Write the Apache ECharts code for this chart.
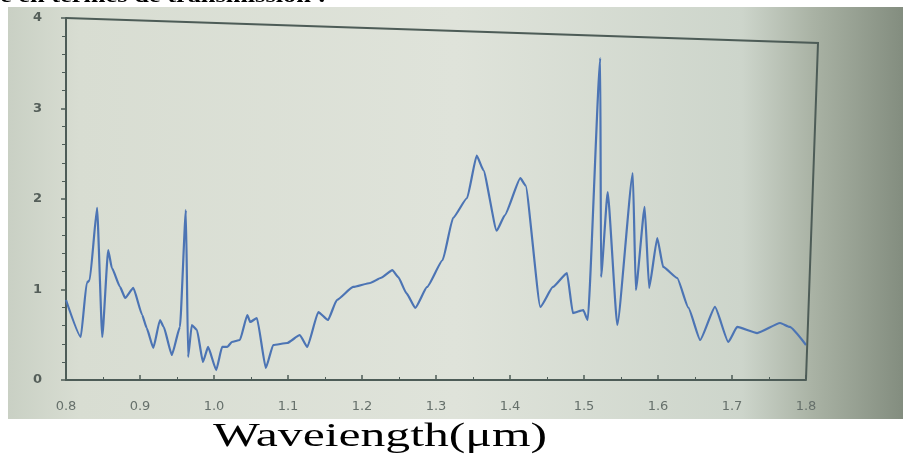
<!DOCTYPE html>
<html>
<head>
<meta charset="utf-8">
<script src="https://cdn.jsdelivr.net/npm/echarts@6/dist/echarts.min.js"></script>
<style>html,body{margin:0;padding:0;background:#fff}#c{width:903px;height:459px}</style>
</head>
<body>
<div id="c"></div>
<script>
var wavelength = [0.800,0.820,0.828,0.832,0.842,0.849,0.857,0.862,0.873,0.880,0.891,0.903,0.909,0.918,0.927,0.932,0.943,0.954,0.962,0.965,0.970,0.977,0.985,0.992,1.003,1.011,1.018,1.024,1.035,1.045,1.049,1.058,1.070,1.080,1.099,1.116,1.126,1.141,1.154,1.166,1.188,1.211,1.226,1.241,1.249,1.260,1.272,1.288,1.309,1.323,1.342,1.355,1.364,1.382,1.393,1.414,1.421,1.441,1.458,1.477,1.485,1.499,1.505,1.522,1.523,1.532,1.545,1.566,1.570,1.582,1.588,1.599,1.607,1.626,1.641,1.657,1.677,1.695,1.707,1.734,1.765,1.778,1.800];
var values = [0.884,0.475,1.072,1.105,1.901,0.475,1.436,1.238,1.028,0.906,1.017,0.718,0.575,0.354,0.663,0.586,0.276,0.586,1.878,0.254,0.608,0.552,0.199,0.365,0.110,0.365,0.365,0.420,0.442,0.718,0.641,0.685,0.133,0.387,0.409,0.497,0.365,0.751,0.663,0.884,1.028,1.072,1.130,1.215,1.138,0.960,0.796,1.028,1.326,1.790,2.011,2.480,2.320,1.650,1.820,2.230,2.150,0.807,1.028,1.182,0.740,0.773,0.663,3.558,1.138,2.077,0.608,2.287,0.994,1.912,1.017,1.569,1.249,1.127,0.800,0.442,0.807,0.420,0.586,0.519,0.630,0.586,0.387];
var xTicks = [0.8,0.9,1.0,1.1,1.2,1.3,1.4,1.5,1.6,1.7,1.8];
var yTicks = [0,1,2,3,4];
var xTitle = 'Waveiength(μm)';
var topText = 'e en termes de transmission :';

var pts = wavelength.map(function(w,i){return [w, values[i]];});
var chart = echarts.init(document.getElementById('c'), null, {renderer:'canvas'});
var axisColor = '#4d5c57';
var labelColor = '#66706b';
chart.setOption({
  backgroundColor: '#ffffff',
  animation: false,
  grid: {left: 66, right: 97, top: 18, bottom: 79, containLabel: false},
  xAxis: {
    type: 'value', min: xTicks[0], max: xTicks[xTicks.length-1], interval: 0.1,
    axisLine: {show: true, onZero: false, lineStyle: {color: axisColor, width: 2}},
    axisTick: {show: true, inside: true, length: 5, lineStyle: {color: axisColor, width: 1.5}},
    minorTick: {show: true, splitNumber: 2, length: 3, lineStyle: {color: axisColor}},
    splitLine: {show: false},
    axisLabel: {color: labelColor, fontSize: 13, margin: 20, fontFamily: 'DejaVu Sans',
      formatter: function(v){return v.toFixed(1);}}
  },
  yAxis: {
    type: 'value', min: yTicks[0], max: yTicks[yTicks.length-1], interval: 1,
    axisLine: {show: true, lineStyle: {color: axisColor, width: 2}},
    axisTick: {show: true, inside: false, length: 5, lineStyle: {color: axisColor, width: 1.5}},
    minorTick: {show: true, splitNumber: 5, length: 4, lineStyle: {color: axisColor}},
    splitLine: {show: false},
    axisLabel: {color: '#555f5a', fontSize: 13, margin: 24, fontWeight: 'bold', fontFamily: 'DejaVu Sans'}
  },
  graphic: [
    {type: 'text', z: -20, x: 0, y: -15, scaleX: 1.2, originX: 0, originY: 0,
      style: {text: topText, font: 'bold 22px "Liberation Serif"', fill: '#000'}},
    {type: 'rect', z: -10, shape: {x: 8, y: 7, width: 895, height: 412},
      style: {fill: new echarts.graphic.LinearGradient(0,0,1,0,[
        {offset: 0, color: '#c9d0c4'},
        {offset: 0.08, color: '#d8ddd2'},
        {offset: 0.5, color: '#dfe3da'},
        {offset: 0.82, color: '#cdd5cb'},
        {offset: 0.9, color: '#a9b2a4'},
        {offset: 1, color: '#838d7f'}])}},
    {type: 'polyline', z: 5, shape: {points: [[66,18],[818,43],[806,379]]},
      style: {stroke: axisColor, lineWidth: 2, fill: null}},
    {type: 'text', z: 10, x: 380, y: 437, scaleX: 1.46, originX: 0, originY: 0,
      style: {text: xTitle, font: '34px "Liberation Serif"', fill: '#000', textAlign: 'center', textVerticalAlign: 'middle'}}
  ],
  series: [{
    type: 'line', data: pts, showSymbol: false, smooth: 0.15, smoothMonotone: 'x',
    lineStyle: {color: '#4c74b4', width: 2.2}
  }]
});
</script>
</body>
</html>
